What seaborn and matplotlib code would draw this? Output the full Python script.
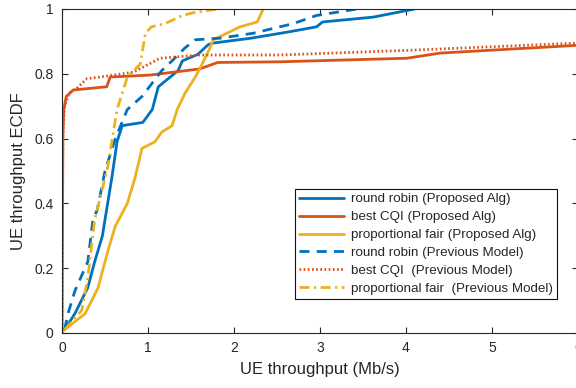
import matplotlib
matplotlib.use("Agg")
import matplotlib.pyplot as plt
import seaborn as sns
import numpy as np

# ---- data ----
rr_prop_x = [0.03, 0.15, 0.30, 0.38, 0.47, 0.50, 0.58, 0.64, 0.70, 0.94, 1.05, 1.12, 1.35, 1.40, 1.58, 1.70, 1.76, 2.20, 2.65, 2.96, 3.03, 3.62, 4.10]
rr_prop_y = [0.01, 0.06, 0.14, 0.22, 0.30, 0.35, 0.48, 0.59, 0.64, 0.65, 0.69, 0.76, 0.81, 0.84, 0.86, 0.89, 0.895, 0.91, 0.93, 0.945, 0.96, 0.975, 1.0]

cqi_prop_x = [0.0, 0.01, 0.02, 0.05, 0.13, 0.52, 0.56, 1.02, 1.60, 1.81, 2.53, 4.01, 4.40, 6.0]
cqi_prop_y = [0.0, 0.60, 0.69, 0.73, 0.75, 0.76, 0.79, 0.796, 0.815, 0.835, 0.837, 0.848, 0.864, 0.888]

pf_prop_x = [0.03, 0.27, 0.42, 0.53, 0.62, 0.76, 0.85, 0.93, 1.08, 1.16, 1.28, 1.34, 1.43, 1.55, 1.63, 1.72, 1.76, 2.07, 2.27, 2.34]
pf_prop_y = [0.01, 0.06, 0.14, 0.25, 0.33, 0.40, 0.48, 0.57, 0.59, 0.62, 0.64, 0.69, 0.74, 0.79, 0.83, 0.88, 0.905, 0.945, 0.96, 1.0]

rr_prev_x = [0.03, 0.07, 0.15, 0.30, 0.36, 0.41, 0.50, 0.62, 0.76, 0.93, 1.16, 1.28, 1.43, 1.55, 1.84, 2.22, 2.69, 2.96, 3.43]
rr_prev_y = [0.01, 0.06, 0.13, 0.22, 0.35, 0.38, 0.50, 0.60, 0.69, 0.73, 0.81, 0.84, 0.88, 0.905, 0.91, 0.925, 0.955, 0.98, 1.0]

cqi_prev_x = [0.0, 0.01, 0.03, 0.08, 0.17, 0.29, 0.44, 0.83, 1.14, 1.60, 2.53, 4.08, 6.0]
cqi_prev_y = [0.0, 0.62, 0.70, 0.74, 0.755, 0.785, 0.79, 0.805, 0.848, 0.858, 0.858, 0.873, 0.895]

pf_prev_x = [0.03, 0.23, 0.30, 0.38, 0.53, 0.64, 0.76, 0.91, 0.97, 1.04, 1.20, 1.40, 1.55, 1.82]
pf_prev_y = [0.01, 0.07, 0.17, 0.35, 0.51, 0.69, 0.79, 0.83, 0.925, 0.945, 0.955, 0.98, 0.99, 1.0]

labels = ["round robin (Proposed Alg)", "best CQI (Proposed Alg)", "proportional fair (Proposed Alg)",
          "round robin (Previous Model)", "best CQI  (Previous Model)", "proportional fair  (Previous Model)"]

x_ticks = [0, 1, 2, 3, 4, 5, 6]
y_ticks = [0, 0.2, 0.4, 0.6, 0.8, 1]

# ---- style ----
sns.set_style("white")
plt.rcParams['font.family'] = ['Liberation Sans', 'DejaVu Sans']

blue, orange, yellow = "#0072BD", "#D95319", "#EDB120"

fig = plt.figure(figsize=(5.76, 3.88), dpi=100)
ax = fig.add_axes([62/576, 55/388, 516/576, 324/388])

series = [
    (rr_prop_x, rr_prop_y, blue, "-"),
    (cqi_prop_x, cqi_prop_y, orange, "-"),
    (pf_prop_x, pf_prop_y, yellow, "-"),
    (rr_prev_x, rr_prev_y, blue, (0, (3.6, 2.6))),
    (cqi_prev_x, cqi_prev_y, orange, (0, (0.6, 0.9))),
    (pf_prev_x, pf_prev_y, yellow, (0, (3.6, 1.6, 0.8, 1.6))),
]
for (xs, ys, c, ls), lab in zip(series, labels):
    sns.lineplot(x=xs, y=ys, ax=ax, color=c, linestyle=ls, linewidth=2.0,
                 sort=False, estimator=None, label=lab)

ax.set_xlim(0, 6)
ax.set_ylim(0, 1)
ax.set_xticks(x_ticks)
ax.set_xticklabels([str(t) for t in x_ticks])
ax.set_yticks(y_ticks)
ax.set_yticklabels(["0", "0.2", "0.4", "0.6", "0.8", "1"])
ax.tick_params(direction="in", length=4, width=0.8, color="#262626",
               labelsize=10, labelcolor="#262626", top=True, right=True,
               bottom=True, left=True, pad=6)
for s in ax.spines.values():
    s.set_visible(True)
    s.set_color("#262626")
    s.set_linewidth(0.8)

ax.set_xlabel("UE throughput (Mb/s)", fontsize=12, color="#262626", labelpad=5)
ax.set_ylabel("UE throughput ECDF", fontsize=12, color="#262626", labelpad=6)

leg = ax.legend(loc="lower right", bbox_to_anchor=(0.959, 0.105), fontsize=9.6,
                frameon=True, fancybox=False, edgecolor="#111111", framealpha=1,
                handlelength=3.4, labelspacing=0.42, borderpad=0.3,
                handletextpad=0.5, borderaxespad=0)
leg.get_frame().set_linewidth(0.8)
for t in leg.get_texts():
    t.set_color("#262626")

fig.savefig("out.png", dpi=100)
